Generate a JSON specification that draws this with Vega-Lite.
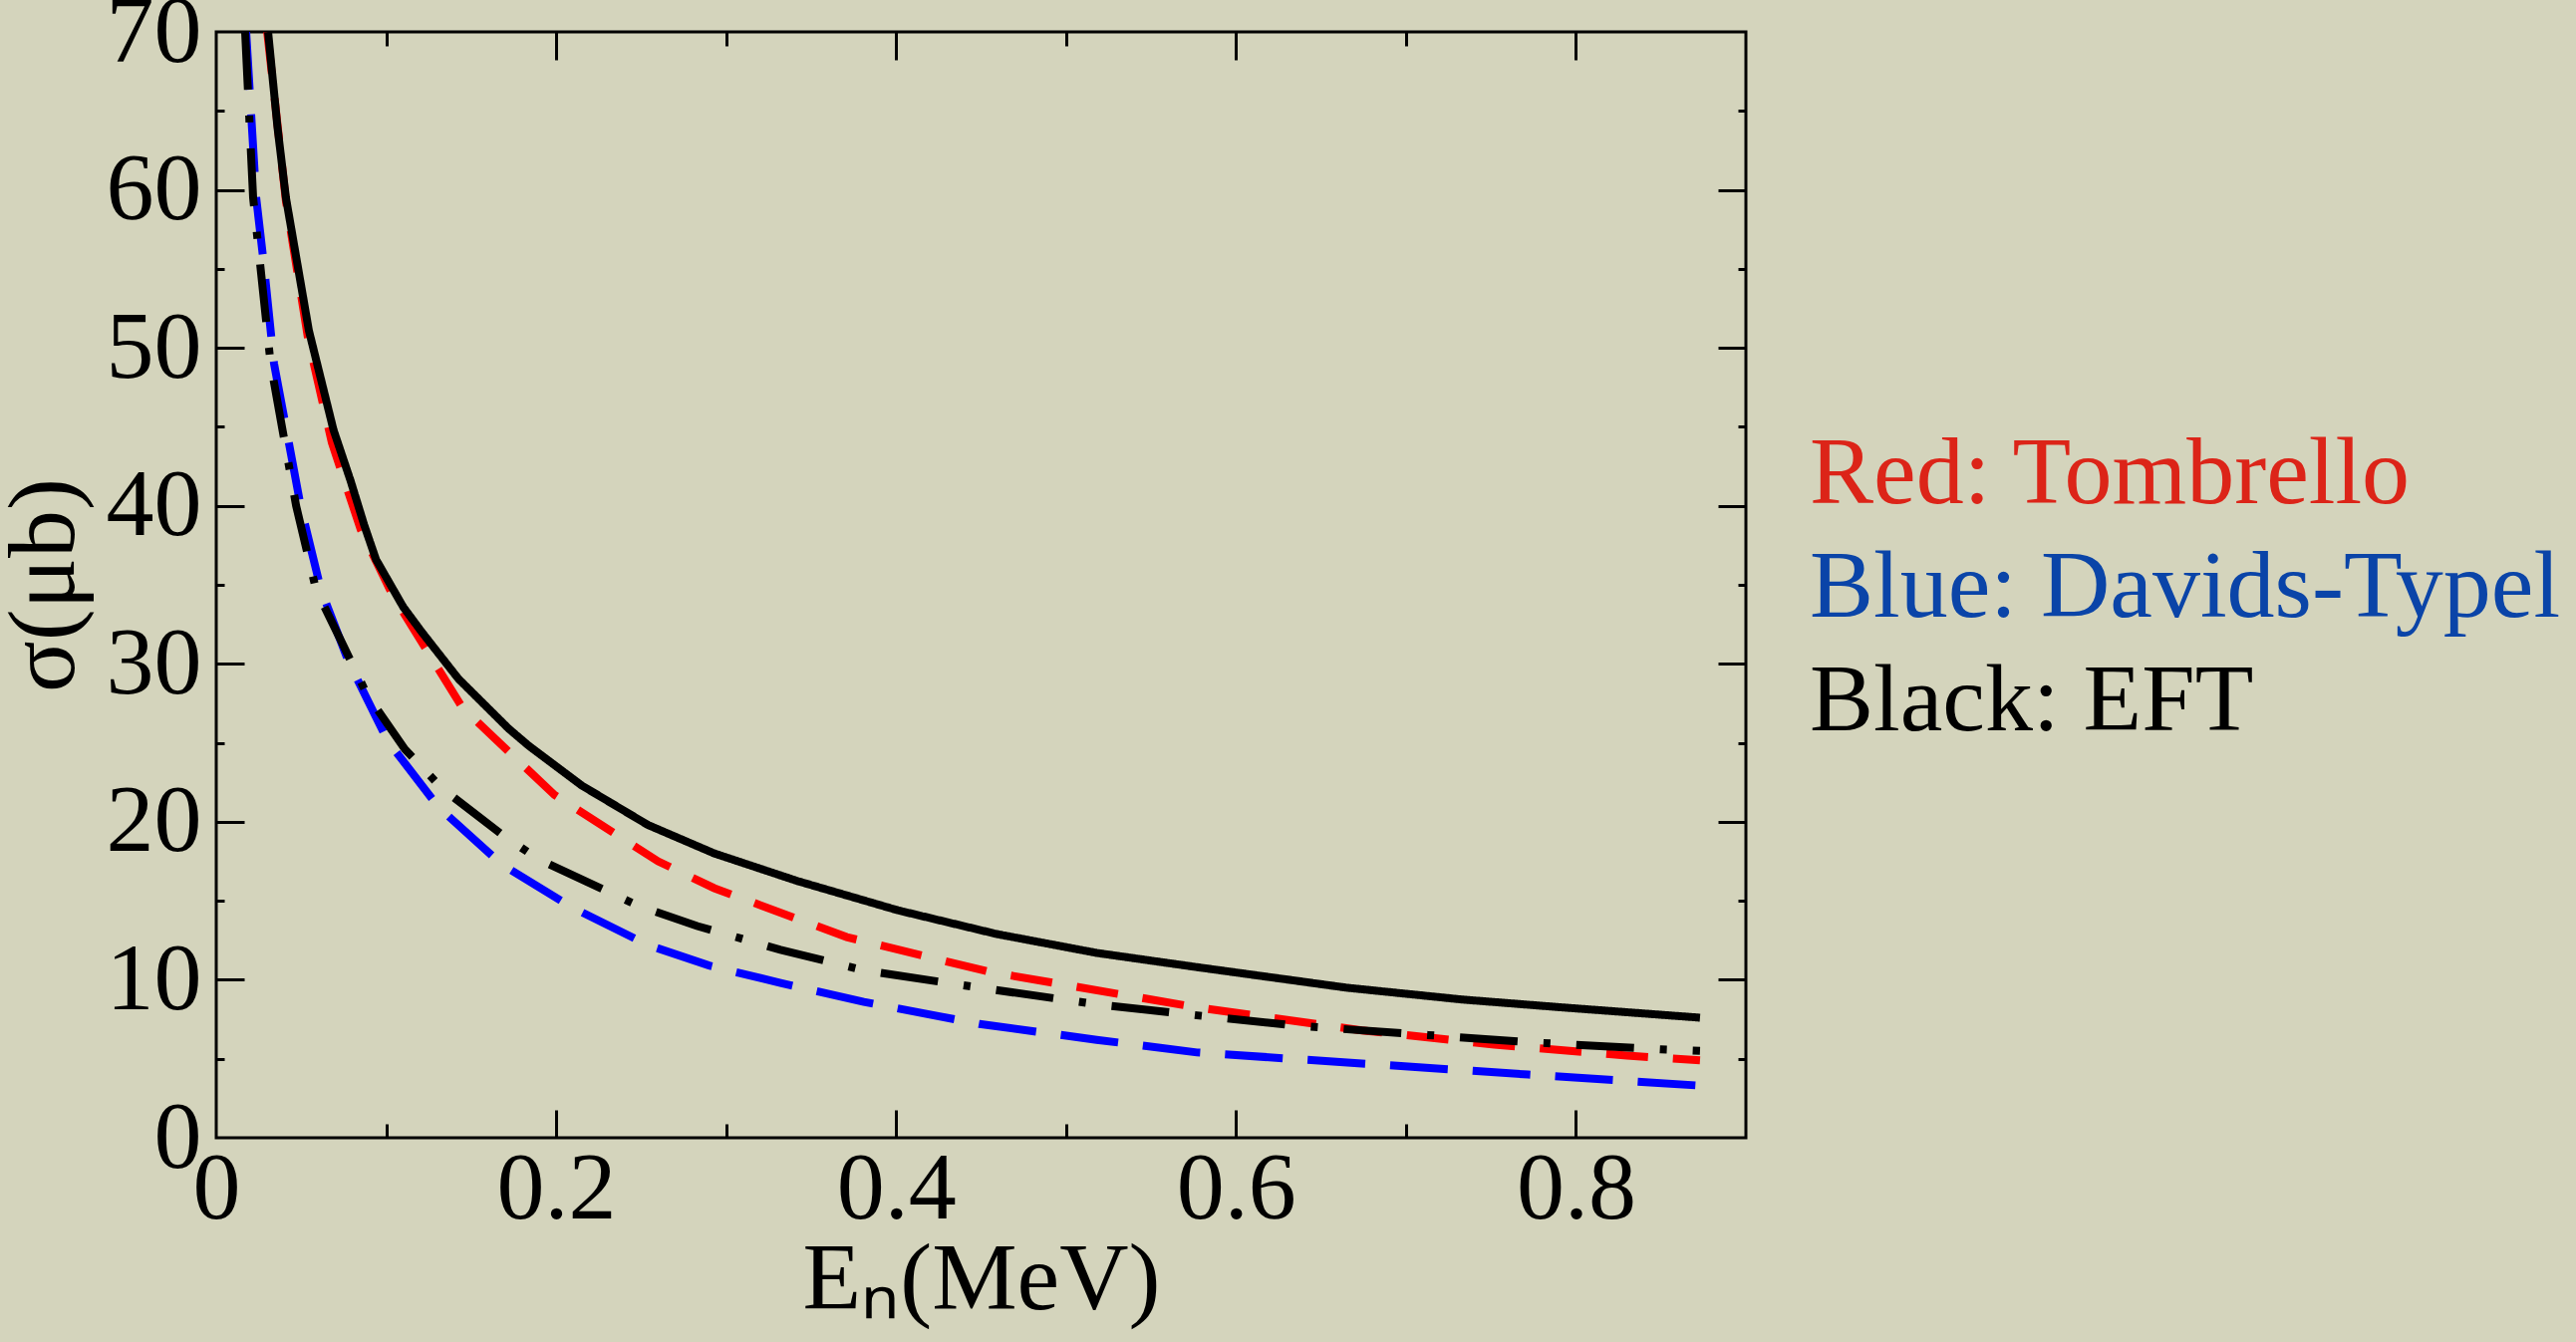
{
  "$schema": "https://vega.github.io/schema/vega-lite/v6.json",
  "autosize": {"type": "none"},
  "padding": {"left": 217, "top": 32, "right": 833, "bottom": 205},
  "width": 1535,
  "height": 1110,
  "background": "#d4d4bc",
  "config": {
    "view": {"stroke": "#000000", "strokeWidth": 3, "fill": null},
    "axis": {"grid": false, "domain": false, "labelFont": "Liberation Serif", "titleFont": "Liberation Serif", "labelColor": "#000000", "titleColor": "#000000", "tickColor": "#000000", "tickWidth": 3, "titleFontWeight": "normal"},
    "legend": {"labelFont": "Liberation Serif"}
  },
  "data": {
    "values": [
      {"model": "Tombrello", "curve": "Tombrello", "E": 0.030, "sigma": 70},
      {"model": "Tombrello", "curve": "Tombrello", "E": 0.041, "sigma": 59.3},
      {"model": "Tombrello", "curve": "Tombrello", "E": 0.054, "sigma": 50.6},
      {"model": "Tombrello", "curve": "Tombrello", "E": 0.068, "sigma": 44.0},
      {"model": "Tombrello", "curve": "Tombrello", "E": 0.085, "sigma": 38.5},
      {"model": "Tombrello", "curve": "Tombrello", "E": 0.104, "sigma": 34.3},
      {"model": "Tombrello", "curve": "Tombrello", "E": 0.145, "sigma": 27.2},
      {"model": "Tombrello", "curve": "Tombrello", "E": 0.199, "sigma": 21.7},
      {"model": "Tombrello", "curve": "Tombrello", "E": 0.260, "sigma": 17.5},
      {"model": "Tombrello", "curve": "Tombrello", "E": 0.293, "sigma": 15.8},
      {"model": "Tombrello", "curve": "Tombrello", "E": 0.371, "sigma": 12.7},
      {"model": "Tombrello", "curve": "Tombrello", "E": 0.455, "sigma": 10.5},
      {"model": "Tombrello", "curve": "Tombrello", "E": 0.577, "sigma": 8.25},
      {"model": "Tombrello", "curve": "Tombrello", "E": 0.674, "sigma": 6.8},
      {"model": "Tombrello", "curve": "Tombrello", "E": 0.752, "sigma": 5.9},
      {"model": "Tombrello", "curve": "Tombrello", "E": 0.830, "sigma": 5.2},
      {"model": "Tombrello", "curve": "Tombrello", "E": 0.873, "sigma": 4.9},

      {"model": "Davids-Typel", "curve": "Davids-Typel", "E": 0.0176, "sigma": 70},
      {"model": "Davids-Typel", "curve": "Davids-Typel", "E": 0.0235, "sigma": 59.5},
      {"model": "Davids-Typel", "curve": "Davids-Typel", "E": 0.028, "sigma": 55.3},
      {"model": "Davids-Typel", "curve": "Davids-Typel", "E": 0.034, "sigma": 49.0},
      {"model": "Davids-Typel", "curve": "Davids-Typel", "E": 0.050, "sigma": 39.8},
      {"model": "Davids-Typel", "curve": "Davids-Typel", "E": 0.0616, "sigma": 34.7},
      {"model": "Davids-Typel", "curve": "Davids-Typel", "E": 0.078, "sigma": 30.1},
      {"model": "Davids-Typel", "curve": "Davids-Typel", "E": 0.101, "sigma": 25.1},
      {"model": "Davids-Typel", "curve": "Davids-Typel", "E": 0.131, "sigma": 20.9},
      {"model": "Davids-Typel", "curve": "Davids-Typel", "E": 0.168, "sigma": 17.3},
      {"model": "Davids-Typel", "curve": "Davids-Typel", "E": 0.209, "sigma": 14.6},
      {"model": "Davids-Typel", "curve": "Davids-Typel", "E": 0.254, "sigma": 12.2},
      {"model": "Davids-Typel", "curve": "Davids-Typel", "E": 0.290, "sigma": 10.9},
      {"model": "Davids-Typel", "curve": "Davids-Typel", "E": 0.332, "sigma": 9.8},
      {"model": "Davids-Typel", "curve": "Davids-Typel", "E": 0.381, "sigma": 8.6},
      {"model": "Davids-Typel", "curve": "Davids-Typel", "E": 0.449, "sigma": 7.2},
      {"model": "Davids-Typel", "curve": "Davids-Typel", "E": 0.518, "sigma": 6.2},
      {"model": "Davids-Typel", "curve": "Davids-Typel", "E": 0.577, "sigma": 5.4},
      {"model": "Davids-Typel", "curve": "Davids-Typel", "E": 0.674, "sigma": 4.7},
      {"model": "Davids-Typel", "curve": "Davids-Typel", "E": 0.772, "sigma": 4.0},
      {"model": "Davids-Typel", "curve": "Davids-Typel", "E": 0.873, "sigma": 3.3},

      {"model": "EFT", "curve": "EFT solid", "E": 0.0305, "sigma": 70},
      {"model": "EFT", "curve": "EFT solid", "E": 0.036, "sigma": 64.0},
      {"model": "EFT", "curve": "EFT solid", "E": 0.041, "sigma": 59.5},
      {"model": "EFT", "curve": "EFT solid", "E": 0.0545, "sigma": 51.1},
      {"model": "EFT", "curve": "EFT solid", "E": 0.069, "sigma": 44.8},
      {"model": "EFT", "curve": "EFT solid", "E": 0.079, "sigma": 41.6},
      {"model": "EFT", "curve": "EFT solid", "E": 0.087, "sigma": 38.8},
      {"model": "EFT", "curve": "EFT solid", "E": 0.094, "sigma": 36.6},
      {"model": "EFT", "curve": "EFT solid", "E": 0.110, "sigma": 33.6},
      {"model": "EFT", "curve": "EFT solid", "E": 0.121, "sigma": 32.0},
      {"model": "EFT", "curve": "EFT solid", "E": 0.1425, "sigma": 29.05},
      {"model": "EFT", "curve": "EFT solid", "E": 0.172, "sigma": 25.9},
      {"model": "EFT", "curve": "EFT solid", "E": 0.184, "sigma": 24.8},
      {"model": "EFT", "curve": "EFT solid", "E": 0.215, "sigma": 22.3},
      {"model": "EFT", "curve": "EFT solid", "E": 0.254, "sigma": 19.8},
      {"model": "EFT", "curve": "EFT solid", "E": 0.293, "sigma": 18.0},
      {"model": "EFT", "curve": "EFT solid", "E": 0.342, "sigma": 16.25},
      {"model": "EFT", "curve": "EFT solid", "E": 0.401, "sigma": 14.4},
      {"model": "EFT", "curve": "EFT solid", "E": 0.459, "sigma": 12.9},
      {"model": "EFT", "curve": "EFT solid", "E": 0.518, "sigma": 11.7},
      {"model": "EFT", "curve": "EFT solid", "E": 0.577, "sigma": 10.8},
      {"model": "EFT", "curve": "EFT solid", "E": 0.665, "sigma": 9.5},
      {"model": "EFT", "curve": "EFT solid", "E": 0.733, "sigma": 8.75},
      {"model": "EFT", "curve": "EFT solid", "E": 0.792, "sigma": 8.25},
      {"model": "EFT", "curve": "EFT solid", "E": 0.873, "sigma": 7.6},

      {"model": "EFT", "curve": "EFT dash-dot", "E": 0.017, "sigma": 70},
      {"model": "EFT", "curve": "EFT dash-dot", "E": 0.0217, "sigma": 59.5},
      {"model": "EFT", "curve": "EFT dash-dot", "E": 0.032, "sigma": 49.0},
      {"model": "EFT", "curve": "EFT dash-dot", "E": 0.047, "sigma": 40.0},
      {"model": "EFT", "curve": "EFT dash-dot", "E": 0.0587, "sigma": 34.7},
      {"model": "EFT", "curve": "EFT dash-dot", "E": 0.075, "sigma": 31.1},
      {"model": "EFT", "curve": "EFT dash-dot", "E": 0.089, "sigma": 28.0},
      {"model": "EFT", "curve": "EFT dash-dot", "E": 0.111, "sigma": 24.6},
      {"model": "EFT", "curve": "EFT dash-dot", "E": 0.133, "sigma": 22.1},
      {"model": "EFT", "curve": "EFT dash-dot", "E": 0.168, "sigma": 19.2},
      {"model": "EFT", "curve": "EFT dash-dot", "E": 0.190, "sigma": 17.6},
      {"model": "EFT", "curve": "EFT dash-dot", "E": 0.248, "sigma": 14.7},
      {"model": "EFT", "curve": "EFT dash-dot", "E": 0.283, "sigma": 13.4},
      {"model": "EFT", "curve": "EFT dash-dot", "E": 0.332, "sigma": 11.9},
      {"model": "EFT", "curve": "EFT dash-dot", "E": 0.381, "sigma": 10.6},
      {"model": "EFT", "curve": "EFT dash-dot", "E": 0.449, "sigma": 9.5},
      {"model": "EFT", "curve": "EFT dash-dot", "E": 0.518, "sigma": 8.45},
      {"model": "EFT", "curve": "EFT dash-dot", "E": 0.577, "sigma": 7.75},
      {"model": "EFT", "curve": "EFT dash-dot", "E": 0.635, "sigma": 7.1},
      {"model": "EFT", "curve": "EFT dash-dot", "E": 0.713, "sigma": 6.5},
      {"model": "EFT", "curve": "EFT dash-dot", "E": 0.772, "sigma": 6.05},
      {"model": "EFT", "curve": "EFT dash-dot", "E": 0.850, "sigma": 5.6},
      {"model": "EFT", "curve": "EFT dash-dot", "E": 0.873, "sigma": 5.5}
    ]
  },
  "resolve": {"axis": {"x": "independent", "y": "independent"}},
  "layer": [
    {
      "mark": {"type": "line", "strokeWidth": 8, "strokeCap": "butt", "clip": true},
      "encoding": {
        "x": {"field": "E", "type": "quantitative", "scale": {"domain": [0, 0.9], "nice": false, "zero": false},
              "axis": {"orient": "bottom", "values": [0, 0.2, 0.4, 0.6, 0.8], "format": ".1~f", "ticks": false, "labelFontSize": 96, "labelPadding": 4, "labelFlush": false, "labelOverlap": false, "title": "Eₙ(MeV)", "titleFontSize": 96, "titlePadding": -4}},
        "y": {"field": "sigma", "type": "quantitative", "scale": {"domain": [0, 70], "nice": false, "zero": false},
              "axis": {"orient": "left", "values": [0, 10, 20, 30, 40, 50, 60, 70], "ticks": false, "labelFontSize": 96, "labelPadding": 15, "labelFlush": false, "labelOverlap": false, "title": "σ(μb)", "titleFontSize": 96, "titlePadding": 13}},
        "color": {"field": "model", "type": "nominal",
                  "scale": {"domain": ["Tombrello", "Davids-Typel", "EFT"], "range": ["#ff0000", "#0000ff", "#000000"]},
                  "legend": {"orient": "none", "legendX": 1503, "legendY": 396, "title": null, "padding": 0, "symbolSize": 0, "symbolStrokeWidth": 0, "symbolOpacity": 0, "labelOffset": 0, "labelFontSize": 96, "labelLimit": 0, "rowPadding": 18,
                             "labelExpr": "datum.value == 'Tombrello' ? 'Red: Tombrello' : datum.value == 'Davids-Typel' ? 'Blue: Davids-Typel' : 'Black: EFT'",
                             "labelColor": {"expr": "datum.value == 'Tombrello' ? '#dc2418' : datum.value == 'Davids-Typel' ? '#0a44a8' : '#000000'"}}},
        "strokeDash": {"field": "curve", "type": "nominal",
                       "scale": {"domain": ["Tombrello", "Davids-Typel", "EFT solid", "EFT dash-dot"], "range": [[42, 25], [58, 25], [1, 0], [58, 26, 7, 26]]},
                       "legend": null}
      }
    },
    {
      "mark": {"type": "point", "opacity": 0},
      "encoding": {
        "x": {"field": "E", "type": "quantitative", "axis": {"orient": "bottom", "values": [0.2, 0.4, 0.6, 0.8], "labels": false, "tickSize": -28, "title": null}},
        "y": {"field": "sigma", "type": "quantitative", "axis": {"orient": "left", "values": [10, 20, 30, 40, 50, 60], "labels": false, "tickSize": -28, "title": null}}
      }
    },
    {
      "mark": {"type": "point", "opacity": 0},
      "encoding": {
        "x": {"field": "E", "type": "quantitative", "axis": {"orient": "bottom", "values": [0.1, 0.3, 0.5, 0.7], "labels": false, "tickSize": -14, "title": null}},
        "y": {"field": "sigma", "type": "quantitative", "axis": {"orient": "left", "values": [5, 15, 25, 35, 45, 55, 65], "labels": false, "tickSize": -8, "title": null}}
      }
    },
    {
      "mark": {"type": "point", "opacity": 0},
      "encoding": {
        "x": {"field": "E", "type": "quantitative", "axis": {"orient": "top", "values": [0.2, 0.4, 0.6, 0.8], "labels": false, "tickSize": -28, "title": null}},
        "y": {"field": "sigma", "type": "quantitative", "axis": {"orient": "right", "values": [10, 20, 30, 40, 50, 60], "labels": false, "tickSize": -28, "title": null}}
      }
    },
    {
      "mark": {"type": "point", "opacity": 0},
      "encoding": {
        "x": {"field": "E", "type": "quantitative", "axis": {"orient": "top", "values": [0.1, 0.3, 0.5, 0.7], "labels": false, "tickSize": -14, "title": null}},
        "y": {"field": "sigma", "type": "quantitative", "axis": {"orient": "right", "values": [5, 15, 25, 35, 45, 55, 65], "labels": false, "tickSize": -8, "title": null}}
      }
    }
  ]
}
